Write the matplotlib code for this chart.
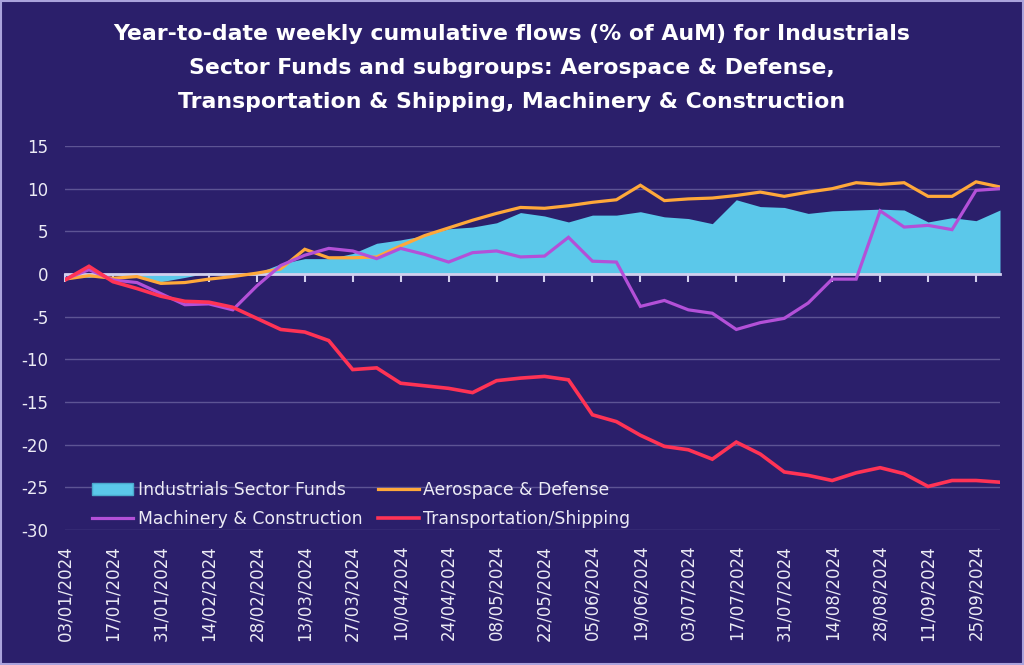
import matplotlib
matplotlib.use("Agg")
import matplotlib.pyplot as plt
import matplotlib.patches as mpatches
from matplotlib.lines import Line2D
import pandas as pd

plt.rcParams["axes.unicode_minus"] = False

dates = pd.date_range("2024-01-03", periods=40, freq="7D")

industrials = [-0.2, -0.4, -0.1, -0.3, -0.9, -0.4, 0.15, 0.0, 0.1, 1.2,
               1.8, 1.8, 2.4, 3.6, 4.0, 4.5, 5.3, 5.5, 6.0, 7.2,
               6.8, 6.1, 6.9, 6.9, 7.3, 6.7, 6.5, 5.9, 8.7, 7.9,
               7.8, 7.1, 7.4, 7.5, 7.6, 7.5, 6.1, 6.6, 6.25, 7.5]
aerospace = [-0.6, -0.2, -0.5, -0.3, -1.1, -1.0, -0.6, -0.3, 0.1, 0.6,
             2.9, 1.9, 1.9, 2.0, 3.3, 4.5, 5.4, 6.3, 7.1, 7.8,
             7.7, 8.0, 8.4, 8.7, 10.4, 8.6, 8.8, 8.9, 9.2, 9.6,
             9.1, 9.6, 10.0, 10.7, 10.5, 10.7, 9.1, 9.1, 10.8, 10.2]
machinery = [-0.6, 0.5, -0.7, -1.0, -2.3, -3.6, -3.5, -4.2, -1.4, 1.0,
             2.2, 3.0, 2.7, 1.8, 3.0, 2.3, 1.4, 2.5, 2.7, 2.0,
             2.1, 4.3, 1.5, 1.4, -3.8, -3.1, -4.2, -4.6, -6.5, -5.7,
             -5.2, -3.4, -0.6, -0.6, 7.4, 5.5, 5.7, 5.2, 9.8, 10.0]
transport = [-0.7, 0.9, -0.9, -1.7, -2.6, -3.2, -3.3, -3.9, -5.2, -6.5,
             -6.8, -7.8, -11.2, -11.0, -12.8, -13.1, -13.4, -13.9, -12.5, -12.2,
             -12.0, -12.4, -16.5, -17.3, -18.9, -20.2, -20.6, -21.7, -19.7, -21.1,
             -23.2, -23.6, -24.2, -23.3, -22.7, -23.4, -24.9, -24.2, -24.2, -24.4]

yticks = [-30, -25, -20, -15, -10, -5, 0, 5, 10, 15]
title = ("Year-to-date weekly cumulative flows (% of AuM) for Industrials\n"
         "Sector Funds and subgroups: Aerospace & Defense,\n"
         "Transportation & Shipping, Machinery & Construction")

bg = "#2b1f6b"
c_ind = "#5bc8ea"
c_aero = "#ffa83a"
c_mach = "#b350d8"
c_trans = "#ff3355"
txt = "#ecebf5"
axis_col = "#d2d0ee"

fig = plt.figure(figsize=(10.24, 6.65), dpi=100, facecolor=bg)
ax = fig.add_axes([65 / 1024, 135 / 665, 935 / 1024, 384 / 665])
ax.set_facecolor(bg)

# border around the whole picture
fig.patches.append(mpatches.Rectangle((0.001, 0.001), 0.998, 0.998, transform=fig.transFigure,
                                      fill=False, edgecolor="#aaa3dc", linewidth=1.5))

ax.fill_between(dates, 0, industrials, color=c_ind, linewidth=0, zorder=2)
ax.plot(dates, aerospace, color=c_aero, lw=2.3, zorder=4, solid_joinstyle="miter")
ax.plot(dates, machinery, color=c_mach, lw=2.3, zorder=5, solid_joinstyle="miter")
ax.plot(dates, transport, color=c_trans, lw=2.6, zorder=6, solid_joinstyle="miter")

ax.set_xlim(dates[0], dates[-1])
ax.set_ylim(-30, 15)
ax.set_yticks(yticks)
ax.yaxis.grid(True, color="#5d5494", lw=1)
ax.set_axisbelow(True)
for k in ["top", "right", "left"]:
    ax.spines[k].set_visible(False)

# x axis line sits on zero, labels pushed down to the bottom
ax.spines["bottom"].set_position(("data", 0))
ax.spines["bottom"].set_color(axis_col)
ax.spines["bottom"].set_linewidth(2)
ax.spines["bottom"].set_zorder(3)

ax.tick_params(axis="y", length=0, pad=12, labelsize=12, labelcolor=txt)
ax.set_xticks(dates[::2])
ax.set_xticklabels([d.strftime("%d/%m/%Y") for d in dates[::2]], rotation=90,
                   fontsize=12, color=txt)
ax.tick_params(axis="x", direction="out", length=6, width=1.5, color=axis_col, pad=189)

handles = [mpatches.Patch(facecolor=c_ind, edgecolor="#4aa9cc", lw=1),
           Line2D([], [], color=c_mach, lw=2.3),
           Line2D([], [], color=c_aero, lw=2.3),
           Line2D([], [], color=c_trans, lw=2.6)]
labels = ["Industrials Sector Funds", "Machinery & Construction",
          "Aerospace & Defense", "Transportation/Shipping"]
leg = ax.legend(handles, labels, ncol=2, loc="lower left", bbox_to_anchor=(0.027, 0.0),
                frameon=False, fontsize=12.4, labelcolor=txt, handlelength=2.4,
                handletextpad=0.25, columnspacing=0.9, labelspacing=0.65,
                borderpad=0, borderaxespad=0.1)
leg.set_zorder(7)

fig.text(0.5, 1 - 68 / 665, title, ha="center", va="center", color="white",
         fontsize=15.8, fontweight="bold", linespacing=1.85)

fig.savefig("out.png", dpi=100, facecolor=bg)
